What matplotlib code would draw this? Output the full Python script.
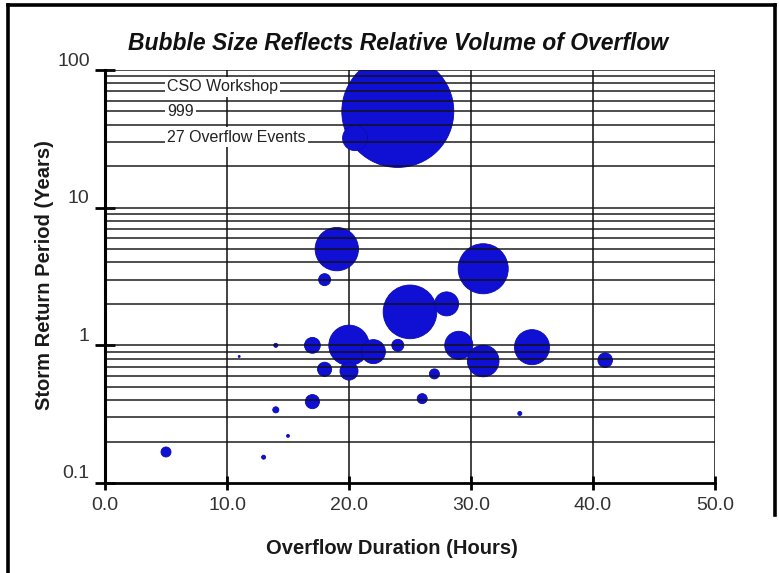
import matplotlib
matplotlib.use("Agg")
import matplotlib.pyplot as plt
import matplotlib.transforms as mtransforms
from matplotlib.lines import Line2D
import numpy as np

plt.rcParams['font.family'] = ['Liberation Sans', 'DejaVu Sans']

# ---- data ----
duration_hours = [24, 20.5, 19, 18, 31, 25, 28, 20, 22, 20, 17, 18, 24, 29,
                  31, 35, 41, 27, 26, 34, 17, 14, 15, 13, 5, 11, 14]
return_period_years = [50, 32, 5, 3, 3.6, 1.75, 2, 1.0, 0.9, 0.65, 1.0, 0.67, 1.0, 1.0,
                       0.77, 0.97, 0.78, 0.62, 0.41, 0.32, 0.39, 0.34, 0.22, 0.154, 0.168, 0.83, 1.0]
relative_volume = [100, 5, 15, 1.15, 20, 23, 4.6, 13, 4.6, 2.6, 2.0, 1.6, 1.15, 6.3,
                   8, 9.8, 1.7, 0.8, 0.8, 0.13, 1.6, 0.3, 0.07, 0.13, 0.8, 0.03, 0.13]
x_ticks = [0, 10, 20, 30, 40, 50]
x_tick_labels = ["0.0", "10.0", "20.0", "30.0", "40.0", "50.0"]
y_ticks = [0.1, 1, 10, 100]
y_tick_labels = ["0.1", "1", "10", "100"]
annotation_lines = ["CSO Workshop", "999", "27 Overflow Events"]
title = "Bubble Size Reflects Relative Volume of Overflow"
x_label = "Overflow Duration (Hours)"
y_label = "Storm Return Period (Years)"

W, H = 779, 573
fig = plt.figure(figsize=(W / 100, H / 100), dpi=100)
fig.patch.set_facecolor('white')
ax = fig.add_axes([105 / W, 1 - 483 / H, (715 - 105) / W, (483 - 70) / H])

ax.set_xlim(0, 50)
ax.set_yscale('log')
ax.set_ylim(0.1, 100)

# bubbles (area proportional to volume)
max_area = 6500.0
sizes = np.array(relative_volume) / max(relative_volume) * max_area
ax.scatter(duration_hours, return_period_years, s=sizes, color='#1010d4',
           edgecolors='#0a0ab0', linewidths=0.6, zorder=2)

# gridlines: vertical beneath, horizontal (major+minor) on top
for xv in x_ticks[1:]:
    ax.axvline(xv, color='#222222', lw=1.2, zorder=1)
grid_y = []
for dec in [0.1, 1, 10]:
    for m in range(1, 10):
        grid_y.append(dec * m)
grid_y.append(100)
for yv in grid_y[1:]:
    ax.axhline(yv, color='#111111', lw=1.3, alpha=0.8, zorder=3)

for s in ['top', 'right']:
    ax.spines[s].set_visible(False)
ax.spines['left'].set_linewidth(2.2)
ax.spines['bottom'].set_linewidth(2.0)
ax.spines['left'].set_zorder(4)
ax.spines['bottom'].set_zorder(4)

ax.set_xticks(x_ticks)
ax.set_xticklabels(x_tick_labels)
ax.set_yticks(y_ticks)
ax.set_yticklabels(y_tick_labels)
ax.yaxis.set_minor_locator(matplotlib.ticker.NullLocator())
ax.tick_params(axis='x', direction='inout', length=10, width=2, pad=5,
               labelsize=14, labelcolor='#333333')
ax.tick_params(axis='y', direction='inout', length=14, width=2, pad=4,
               labelsize=14, labelcolor='#333333')
offset = mtransforms.ScaledTranslation(0, 0.11, fig.dpi_scale_trans)
for lab in ax.get_yticklabels():
    lab.set_transform(lab.get_transform() + offset)

# annotation text with white boxes
ann_y_px = [87, 112, 137]
for txt, ypx in zip(annotation_lines, ann_y_px):
    ax.text((167 - 105) / 610, (483 - ypx) / 413, txt, transform=ax.transAxes,
            fontsize=11.5, color='#222222', ha='left', va='center', zorder=5,
            bbox=dict(boxstyle='square,pad=0.15', fc='white', ec='none'))

fig.text(398 / W, 1 - 44 / H, title, ha='center', va='center', fontsize=16.5,
         fontweight='bold', fontstyle='italic', color='#111111')
fig.text(392 / W, 1 - 549 / H, x_label, ha='center', va='center', fontsize=14.5,
         fontweight='bold', color='#1a1a1a')
fig.text(45 / W, 1 - 275 / H, y_label, ha='center', va='center', fontsize=14.5,
         fontweight='bold', color='#1a1a1a', rotation=90)

# figure border
fig.add_artist(Line2D([7.5 / W, 7.5 / W], [0, 1 - 5 / H], transform=fig.transFigure,
                      color='black', lw=2.6))
fig.add_artist(Line2D([7.5 / W, 775 / W], [1 - 5 / H, 1 - 5 / H], transform=fig.transFigure,
                      color='black', lw=2.6))
fig.add_artist(Line2D([775 / W, 775 / W], [1 - 5 / H, 1 - 515 / H], transform=fig.transFigure,
                      color='black', lw=2.6))

fig.savefig('out.png', dpi=100, facecolor='white')
